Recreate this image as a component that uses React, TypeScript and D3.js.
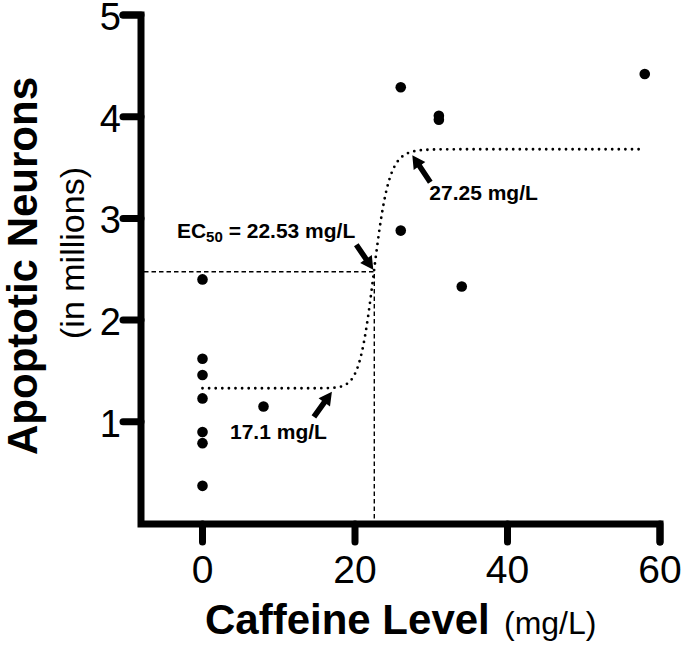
import React from "react";
import * as d3 from "d3";

const caffeine = [0, 0, 0, 0, 0, 0, 0, 8, 26, 26, 31, 31, 34, 58];
const neurons = [2.4, 1.62, 1.46, 1.23, 0.9, 0.79, 0.37, 1.15, 4.29, 2.88, 4.01, 3.97, 2.33, 4.42];

const xTicks = [0, 20, 40, 60];
const yTicks = [1, 2, 3, 4, 5];

const fitBottom = 1.33;
const fitTop = 3.68;
const fitEC50 = 22.53;
const fitHill = 23;
const fitRange = [0, 57.5];

const annotX = [17.1, 22.53, 27.25];
const annotText = ["17.1 mg/L", "EC50", "27.25 mg/L"];

const W = 685;
const H = 648;
const FONT = "'Liberation Sans', Arial, Helvetica, sans-serif";

function hill(x: number) {
  if (x <= 0) return fitBottom;
  const r = Math.pow(x / fitEC50, fitHill);
  return fitBottom + (fitTop - fitBottom) * (r / (1 + r));
}

function arrowPath(sx: number, sy: number, tx: number, ty: number) {
  const dx = tx - sx;
  const dy = ty - sy;
  const len = Math.hypot(dx, dy);
  const ux = dx / len;
  const uy = dy / len;
  const nx = -uy;
  const ny = ux;
  const hw = 2.8;
  const hh = 7;
  const hl = 13;
  const bx = tx - ux * hl;
  const by = ty - uy * hl;
  const pts = [
    [sx + nx * hw, sy + ny * hw],
    [bx + nx * hw, by + ny * hw],
    [bx + nx * hh, by + ny * hh],
    [tx, ty],
    [bx - nx * hh, by - ny * hh],
    [bx - nx * hw, by - ny * hw],
    [sx - nx * hw, sy - ny * hw],
  ];
  return "M" + pts.map((p) => p[0].toFixed(1) + "," + p[1].toFixed(1)).join("L") + "Z";
}

export default function App() {
  const x = d3.scaleLinear().domain([0, 60]).range([202.5, 660]);
  const y = d3.scaleLinear().domain([0, 5]).range([523.5, 15]);
  const axisX0 = 141;
  const axisY0 = 524;

  const curvePts: [number, number][] = d3
    .range(0, 801)
    .map((i) => fitRange[0] + ((fitRange[1] - fitRange[0]) * i) / 800)
    .map((v) => [x(v), y(hill(v))]);
  const curve = d3.line()(curvePts) || "";

  const ecX = x(fitEC50);
  const ecY = y(hill(fitEC50)) + 3;

  const tipOff = [
    [-1, 4],
    [-1, 1],
    [2, 3],
  ];
  const tailOff = [
    [-18, 25],
    [-17, -25],
    [18, 27],
  ];

  const arrows = annotX.map((v, i) => {
    const tx = x(v) + tipOff[i][0];
    const ty = y(hill(v)) + tipOff[i][1];
    const sx = tx + tailOff[i][0];
    const sy = ty + tailOff[i][1];
    return { tx, ty, sx, sy };
  });

  const axisPath = `M${x(60)},${axisY0 + 18}L${x(60)},${axisY0}L${axisX0},${axisY0}L${axisX0},${y(5)}L${axisX0 - 18},${y(5)}`;

  return (
    <svg
      width={W}
      height={H}
      style={{ position: "absolute", left: 0, top: 0, background: "#fff" }}
      fontFamily={FONT}
    >
      <rect x={0} y={0} width={W} height={H} fill="#fff" />
      <path
        d={`M${axisX0 + 3},${ecY}L${ecX},${ecY}L${ecX},${axisY0 - 3}`}
        fill="none"
        stroke="#000"
        strokeWidth={1.4}
        strokeDasharray="4.5 3"
      />
      <path
        d={curve}
        fill="none"
        stroke="#000"
        strokeWidth={2.8}
        strokeDasharray="0 6.6"
        strokeLinecap="round"
      />
      {caffeine.map((c, i) => (
        <circle key={i} cx={x(c)} cy={y(neurons[i])} r={5.3} fill="#000" />
      ))}
      {arrows.map((a, i) => (
        <path key={i} d={arrowPath(a.sx, a.sy, a.tx, a.ty)} fill="#000" />
      ))}
      <text
        x={arrows[1].sx - 1}
        y={arrows[1].sy - 7}
        textAnchor="end"
        fontSize={21}
        fontWeight="bold"
      >
        EC
        <tspan fontSize={15} dy={4}>50</tspan>
        <tspan dy={-4}> = 22.53 mg/L</tspan>
      </text>
      <text
        x={arrows[0].sx + 13}
        y={arrows[0].sy + 22}
        textAnchor="end"
        fontSize={21}
        fontWeight="bold"
      >
        {annotText[0]}
      </text>
      <text
        x={arrows[2].sx - 1}
        y={arrows[2].sy + 18}
        textAnchor="start"
        fontSize={21}
        fontWeight="bold"
      >
        {annotText[2]}
      </text>
      <path
        d={axisPath}
        fill="none"
        stroke="#000"
        strokeWidth={7}
        strokeLinejoin="miter"
        strokeLinecap="round"
      />
      {xTicks.map((t) => (
        <line
          key={"xt" + t}
          x1={x(t)}
          x2={x(t)}
          y1={axisY0}
          y2={axisY0 + 18}
          stroke="#000"
          strokeWidth={7}
          strokeLinecap="round"
        />
      ))}
      {yTicks.map((t) => (
        <line
          key={"yt" + t}
          x1={axisX0 - 18}
          x2={axisX0}
          y1={y(t)}
          y2={y(t)}
          stroke="#000"
          strokeWidth={7}
          strokeLinecap="round"
        />
      ))}
      {xTicks.map((t) => (
        <text key={"xl" + t} x={x(t)} y={583} textAnchor="middle" fontSize={39}>
          {t}
        </text>
      ))}
      {yTicks.map((t) => (
        <text key={"yl" + t} x={121} y={y(t) + 15} textAnchor="end" fontSize={38}>
          {t}
        </text>
      ))}
      <text x={205} y={634} textAnchor="start" fontSize={42} fontWeight="bold">
        Caffeine Level
      </text>
      <text x={504} y={634} textAnchor="start" fontSize={32}>
        (mg/L)
      </text>
      <text
        transform={`translate(37,266) rotate(-90)`}
        textAnchor="middle"
        fontSize={42}
        fontWeight="bold"
      >
        Apoptotic Neurons
      </text>
      <text
        transform={`translate(84,253) rotate(-90)`}
        textAnchor="middle"
        fontSize={34}
      >
        (in millions)
      </text>
    </svg>
  );
}
